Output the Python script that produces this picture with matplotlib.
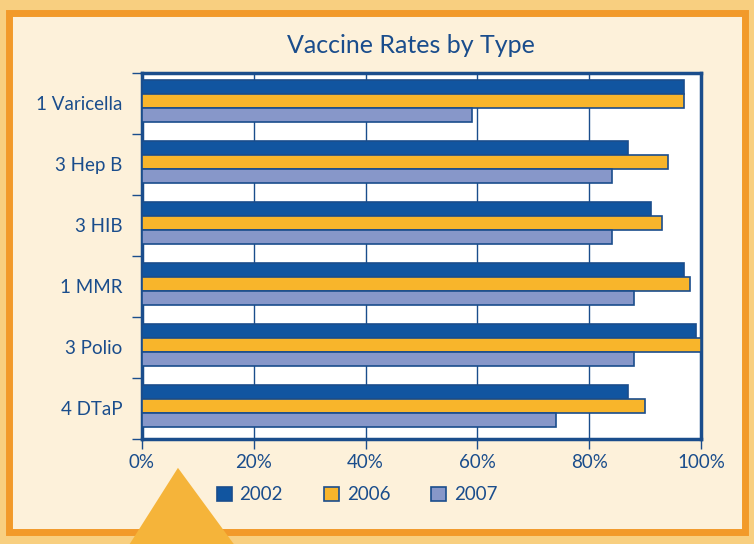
import numpy as np
import matplotlib
matplotlib.use("Agg")
import matplotlib.pyplot as plt
from matplotlib.patches import Rectangle, Polygon

# data
vaccines = ["1 Varicella", "3 Hep B", "3 HIB", "1 MMR", "3 Polio", "4 DTaP"]
years = ["2002", "2006", "2007"]
rate_2002 = [97, 87, 91, 97, 99, 87]
rate_2006 = [97, 94, 93, 98, 100, 90]
rate_2007 = [59, 84, 84, 88, 88, 74]
xticks = [0, 20, 40, 60, 80, 100]

navy = "#1a4d8c"
colors = ["#1155a0", "#f8b52b", "#8797c9"]

plt.rcParams['font.family'] = ['Lato', 'DejaVu Sans']

fig = plt.figure(figsize=(7.54, 5.44), dpi=100, facecolor="#f8cf80")

# framed background
fig.patches.append(Rectangle((0.012, 0.022), 0.976, 0.955, transform=fig.transFigure,
                             fc="#fdf1da", ec="#f29a2a", lw=5, zorder=-2))
fig.patches.append(Polygon([(0.172, 0.0), (0.31, 0.0), (0.236, 0.14)], closed=True,
                           transform=fig.transFigure, fc="#f5b43a", ec="none", zorder=-1))

ax = fig.add_axes([0.188, 0.193, 0.742, 0.673], facecolor="white", zorder=2)

pos = np.arange(len(vaccines))
h = 0.23
offsets = [-0.27, -0.04, 0.19]
for vals, off, c, yr in zip([rate_2002, rate_2006, rate_2007], offsets, colors, years):
    ax.barh(pos + off, vals, height=h, color=c, edgecolor=navy, linewidth=1.2,
            label=yr, zorder=3)

ax.set_xlim(0, 100)
ax.set_ylim(len(vaccines) - 0.5, -0.5)
ax.set_xticks(xticks)
ax.set_xticklabels([f"{v}%" for v in xticks])
ax.set_yticks(pos)
ax.set_yticklabels(vaccines)
ax.set_yticks(np.arange(-0.5, len(vaccines)), minor=True)
ax.tick_params(axis='y', which='major', length=0, pad=14, labelsize=13.5, labelcolor=navy)
ax.tick_params(axis='y', which='minor', length=7, width=1, color=navy, direction='out')
ax.tick_params(axis='x', length=7, width=1, color=navy, labelsize=13.5, labelcolor=navy, pad=4)
ax.grid(axis='x', color=navy, lw=1, zorder=1)
for s in ax.spines.values():
    s.set_color(navy)
    s.set_linewidth(2.5)

fig.text(0.545, 0.917, "Vaccine Rates by Type", ha='center', va='center',
         fontsize=18, color=navy)

ax.legend(loc='upper center', bbox_to_anchor=(0.385, -0.083), ncol=3, frameon=False,
          fontsize=13.5, labelcolor=navy, handlelength=0.8, handleheight=0.8,
          columnspacing=2.2, handletextpad=0.4)

fig.savefig("out.png", dpi=100, facecolor=fig.get_facecolor())
